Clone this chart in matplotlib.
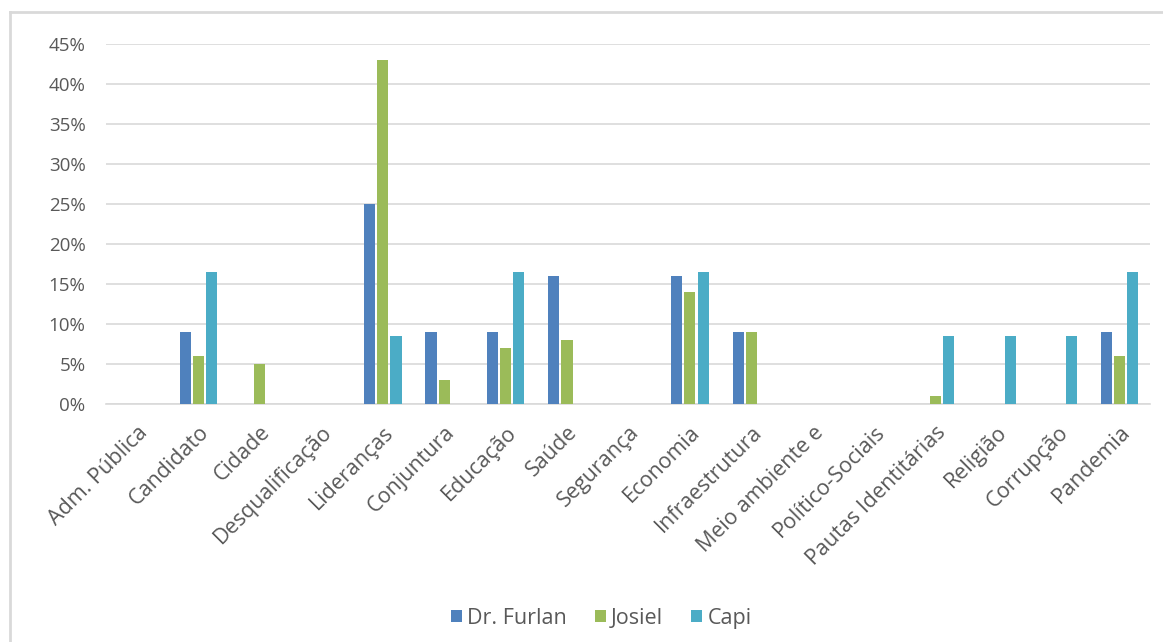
import numpy as np
import matplotlib.pyplot as plt
from matplotlib.lines import Line2D
from matplotlib.ticker import FuncFormatter

categories = ["Adm. Pública", "Candidato", "Cidade", "Desqualificação", "Lideranças",
              "Conjuntura", "Educação", "Saúde", "Segurança", "Economia",
              "Infraestrutura", "Meio ambiente e", "Político-Sociais",
              "Pautas Identitárias", "Religião", "Corrupção", "Pandemia"]
furlan = [0, 9, 0, 0, 25, 9, 9, 16, 0, 16, 9, 0, 0, 0, 0, 0, 9]
josiel = [0, 6, 5, 0, 43, 3, 7, 8, 0, 14, 9, 0, 0, 1, 0, 0, 6]
capi = [0, 16.5, 0, 0, 8.5, 0, 16.5, 0, 0, 16.5, 0, 0, 0, 8.5, 8.5, 8.5, 16.5]
series = ["Dr. Furlan", "Josiel", "Capi"]
colors = ["#4F81BD", "#9BBB59", "#4BACC6"]

plt.rcParams['font.family'] = ['Open Sans', 'DejaVu Sans']
text_color = "#595959"

fig = plt.figure(figsize=(11.63, 6.42), dpi=100)
ax = fig.add_axes([0.0915, 0.371, 0.8977, 0.56])

x = np.arange(len(categories))
w = 0.18
step = 0.215
for i, (vals, name, c) in enumerate(zip([furlan, josiel, capi], series, colors)):
    ax.bar(x + (i - 1) * step, vals, width=w, color=c, label=name, zorder=3)

ax.set_xlim(-0.5, len(categories) - 0.5)
ax.set_ylim(0, 45)
ax.set_yticks(np.arange(0, 46, 5))
ax.yaxis.set_major_formatter(FuncFormatter(lambda v, p: f"{int(v)}%"))
ax.grid(axis='y', color="#D9D9D9", linewidth=1.2, zorder=0)
for s in ["top", "right", "left"]:
    ax.spines[s].set_visible(False)
ax.spines["bottom"].set_color("#D9D9D9")
ax.spines["bottom"].set_linewidth(1.2)
ax.tick_params(length=0, colors=text_color)
ax.tick_params(axis='y', pad=15, labelsize=13.5)
ax.set_xticks(x)
ax.set_xticklabels(categories, rotation=45, ha='right', rotation_mode='anchor',
                   fontsize=15.5)
ax.tick_params(axis='x', pad=13)

leg = fig.legend(loc='center', bbox_to_anchor=(0.517, 0.037), ncol=3, frameon=False,
                 fontsize=15.5, handlelength=0.5, handleheight=0.5,
                 handletextpad=0.25, columnspacing=1.3)
for t in leg.get_texts():
    t.set_color(text_color)

# light frame visible on the left and top of the original picture
fig.add_artist(Line2D([0.009, 0.009], [0.0, 0.981], transform=fig.transFigure,
                      color="#D9D9D9", linewidth=2))
fig.add_artist(Line2D([0.009, 1.0], [0.981, 0.981], transform=fig.transFigure,
                      color="#D9D9D9", linewidth=2))

fig.savefig("out.png", dpi=100)
